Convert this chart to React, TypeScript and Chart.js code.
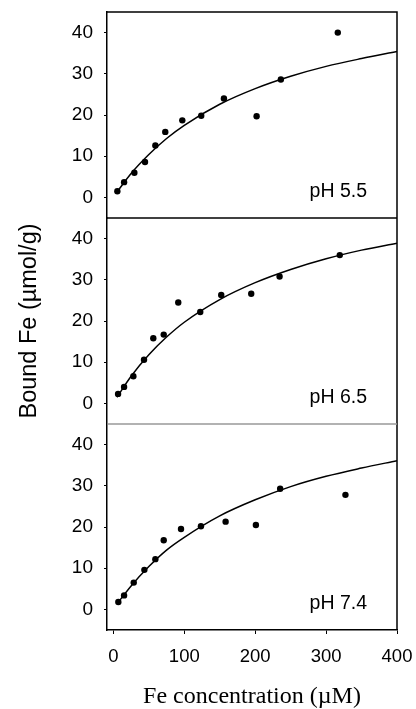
import React, { useEffect, useRef } from 'react';
import { Chart, registerables } from 'chart.js';

Chart.register(...registerables);

// ---- data ----
const X_TICKS = [0, 100, 200, 300, 400];
const Y_TICKS = [0, 10, 20, 30, 40];
const PANEL_LABELS = ['pH 5.5', 'pH 6.5', 'pH 7.4'];
const X_TITLE = 'Fe concentration (µM)';
const Y_TITLE = 'Bound Fe (µmol/g)';

const PH55_X = [5.6, 15.1, 29.6, 44.6, 59.2, 73.2, 97.2, 123.9, 155.9, 202, 236.2, 316.5];
const PH55_Y = [1.5, 3.7, 6.0, 8.6, 12.6, 15.9, 18.7, 19.8, 24.0, 19.7, 28.6, 40.0];
const PH65_X = [6.6, 15.1, 28.2, 43.2, 56.3, 71, 91.5, 122.5, 152.1, 194.4, 234.4, 319.3];
const PH65_Y = [2.3, 4.0, 6.6, 10.6, 15.8, 16.7, 24.5, 22.2, 26.3, 26.6, 30.8, 36.0];
const PH74_X = [7, 15.1, 28.7, 43.7, 59.2, 71, 95.4, 123.5, 158.3, 201, 235.2, 327.3];
const PH74_Y = [1.8, 3.4, 6.5, 9.6, 12.2, 16.8, 19.5, 20.2, 21.3, 20.5, 29.3, 27.8];

const CURVE_X = [5, 25, 50, 75, 100, 150, 200, 250, 300, 350, 400];
const PH55_FIT = [1.3, 5.8, 10.4, 14.3, 17.5, 22.6, 26.4, 29.4, 31.8, 33.7, 35.4];
const PH65_FIT = [1.5, 6.6, 11.8, 16.1, 19.7, 25.2, 29.3, 32.5, 35.1, 37.2, 38.9];
const PH74_FIT = [1.3, 5.7, 10.4, 14.4, 17.5, 22.7, 26.6, 29.8, 32.3, 34.3, 36.1];

const SANS = "'Liberation Sans', Arial, sans-serif";
const SERIF = "'Liberation Serif', 'Times New Roman', serif";

const toPts = (xs: number[], ys: number[]) => xs.map((x, i) => ({ x, y: ys[i] }));

const pointsDs = (xs: number[], ys: number[], axis: string) => ({
  type: 'scatter' as const,
  data: toPts(xs, ys),
  yAxisID: axis,
  showLine: false,
  pointRadius: 3.2,
  pointBackgroundColor: '#000',
  pointBorderWidth: 0,
  borderColor: '#000',
});

const curveDs = (ys: number[], axis: string) => ({
  type: 'line' as const,
  data: toPts(CURVE_X, ys),
  yAxisID: axis,
  borderColor: '#000',
  borderWidth: 1.5,
  pointRadius: 0,
  fill: false,
  cubicInterpolationMode: 'monotone' as const,
});

const yAxis = (withTitle: boolean) => ({
  type: 'linear' as const,
  position: 'left' as const,
  stack: 'ph',
  stackWeight: 1,
  min: -5,
  max: 45,
  afterBuildTicks: (s: any) => {
    s.ticks = Y_TICKS.map((v) => ({ value: v }));
  },
  afterFit: (s: any) => {
    s.width = 107;
    s.paddingTop = 0;
    s.paddingBottom = 0;
  },
  grid: { display: true, drawOnChartArea: false, drawTicks: true, tickLength: 3, color: '#000', lineWidth: 1 },
  border: { display: true, color: '#000', width: 1.5 },
  ticks: { font: { size: 19, family: SANS }, color: '#000', padding: 11 },
  title: withTitle
    ? { display: true, text: Y_TITLE, color: '#000', font: { size: 23.5, family: SANS }, padding: { top: 15, bottom: 0 } }
    : { display: false },
});

const framePlugin = {
  id: 'frame',
  afterDatasetsDraw(chart: any) {
    const { ctx, chartArea } = chart;
    const panels = [chart.scales.yTop, chart.scales.yMid, chart.scales.yBot];
    ctx.save();
    ctx.lineWidth = 1.5;
    ctx.strokeStyle = '#000';
    ctx.beginPath();
    ctx.moveTo(chartArea.left, chartArea.top);
    ctx.lineTo(chartArea.right, chartArea.top);
    ctx.lineTo(chartArea.right, chartArea.bottom);
    ctx.stroke();
    ctx.beginPath();
    ctx.moveTo(chartArea.left, panels[0].bottom);
    ctx.lineTo(chartArea.right, panels[0].bottom);
    ctx.stroke();
    ctx.strokeStyle = '#999';
    ctx.beginPath();
    ctx.moveTo(chartArea.left, panels[1].bottom);
    ctx.lineTo(chartArea.right, panels[1].bottom);
    ctx.stroke();
    ctx.fillStyle = '#000';
    ctx.font = `19.5px ${SANS}`;
    ctx.textAlign = 'right';
    ctx.textBaseline = 'alphabetic';
    panels.forEach((p: any, i: number) => {
      ctx.fillText(PANEL_LABELS[i], chartArea.right - 30, p.bottom - 21);
    });
    ctx.restore();
  },
};

export default function App() {
  const ref = useRef<HTMLCanvasElement | null>(null);
  useEffect(() => {
    if (!ref.current) return;
    const chart = new Chart(ref.current, {
      type: 'scatter',
      data: {
        datasets: [
          pointsDs(PH55_X, PH55_Y, 'yTop'),
          curveDs(PH55_FIT, 'yTop'),
          pointsDs(PH65_X, PH65_Y, 'yMid'),
          curveDs(PH65_FIT, 'yMid'),
          pointsDs(PH74_X, PH74_Y, 'yBot'),
          curveDs(PH74_FIT, 'yBot'),
        ] as any,
      },
      options: {
        responsive: false,
        animation: false,
        devicePixelRatio: 1,
        layout: { padding: { left: 0, top: 12, right: 19, bottom: 0 } },
        plugins: { legend: { display: false }, tooltip: { enabled: false } },
        scales: {
          x: {
            type: 'linear',
            position: 'bottom',
            min: -9,
            max: 400,
            afterBuildTicks: (s: any) => {
              s.ticks = X_TICKS.map((v) => ({ value: v }));
            },
            afterFit: (s: any) => {
              s.height = 79;
              s.paddingLeft = 0;
              s.paddingRight = 0;
            },
            grid: { display: true, drawOnChartArea: false, drawTicks: true, tickLength: 4, color: '#000', lineWidth: 1 },
            border: { display: true, color: '#000', width: 1.5 },
            ticks: { font: { size: 18.5, family: SANS }, color: '#000', padding: 12, maxRotation: 0 },
            title: {
              display: true,
              text: X_TITLE,
              color: '#000',
              font: { size: 24, family: SERIF, lineHeight: 1 },
              padding: { top: 0, bottom: 0 },
            },
          },
          yBot: yAxis(false),
          yMid: yAxis(true),
          yTop: yAxis(false),
        } as any,
      },
      plugins: [framePlugin],
    });
    return () => chart.destroy();
  }, []);
  return (
    <div style={{ position: 'fixed', left: 0, top: 0, width: 416, height: 709, background: '#fff' }}>
      <canvas ref={ref} width={416} height={709} style={{ display: 'block' }} />
    </div>
  );
}
